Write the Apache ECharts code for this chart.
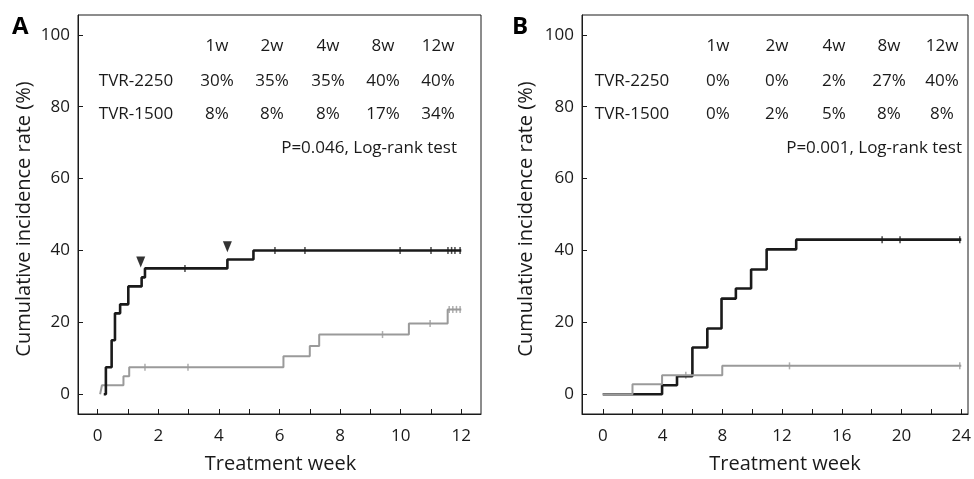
<!DOCTYPE html>
<html>
<head>
<meta charset="utf-8">
<script src="https://cdn.jsdelivr.net/npm/echarts@6.0.0/dist/echarts.min.js"></script>
<style>
  html, body { margin: 0; padding: 0; background: #fff; }
  #chart { width: 974px; height: 479px; }
</style>
</head>
<body>
<div id="chart"></div>
<script>
// panel A: weeks 0-12
const weeksA2250 = [0.2, 0.27, 0.46, 0.57, 0.74, 1.01, 1.45, 1.56, 4.28, 5.14, 12];
const ratesA2250 = [0, 7.5, 15, 22.5, 25, 30, 32.5, 35, 37.5, 40, 40];
const weeksA1500 = [0.08, 0.14, 0.85, 1.04, 6.13, 7.0, 7.31, 10.27, 11.55, 12];
const ratesA1500 = [0, 2.5, 5, 7.5, 10.6, 13.4, 16.6, 19.7, 23.6, 23.6];
const censorA2250 = [[2.88, 35], [5.85, 40], [6.84, 40], [9.98, 40], [11.0, 40], [11.56, 40], [11.68, 40], [11.79, 40], [11.96, 40]];
const censorA1500 = [[1.56, 7.5], [2.98, 7.5], [9.4, 16.6], [10.97, 19.7], [11.6, 23.6], [11.72, 23.6], [11.84, 23.6], [11.96, 23.6]];
const arrowsA = [[1.42, 36.8], [4.28, 41]];

// panel B: weeks 0-24
const weeksB2250 = [0, 3.97, 4.97, 6.0, 7.0, 7.95, 8.91, 9.93, 10.97, 12.95, 24];
const ratesB2250 = [0, 2.5, 5, 13, 18.3, 26.6, 29.4, 34.7, 40.3, 43, 43];
const weeksB1500 = [0, 1.99, 3.97, 8.0, 24];
const ratesB1500 = [0, 2.8, 5.3, 7.9, 7.9];
const censorB2250 = [[18.7, 43], [19.9, 43], [23.9, 43]];
const censorB1500 = [[5.56, 5.3], [12.5, 7.9], [23.9, 7.9]];

// ticks
const yTicks = [0, 20, 40, 60, 80, 100];
const xTicksA = [0, 1, 2, 3, 4, 5, 6, 7, 8, 9, 10, 11, 12];
const xLabelsA = [0, 2, 4, 6, 8, 10, 12];
const xTicksB = [0, 2, 4, 6, 8, 10, 12, 14, 16, 18, 20, 22, 24];
const xLabelsB = [0, 4, 8, 12, 16, 20, 24];

// inset tables
const tableWeeks = ['1w', '2w', '4w', '8w', '12w'];
const groupNames = ['TVR-2250', 'TVR-1500'];
const tableA = [['30%', '35%', '35%', '40%', '40%'], ['8%', '8%', '8%', '17%', '34%']];
const tableB = [['0%', '0%', '2%', '27%', '40%'], ['0%', '2%', '5%', '8%', '8%']];
const pTextA = 'P=0.046, Log-rank test';
const pTextB = 'P=0.001, Log-rank test';
const yTitle = 'Cumulative incidence rate (%)';

const FONT = '"Open Sans", "Noto Sans", sans-serif';
const INK = '#1a1a1a';
const GRAY = '#9a9a9a';

const zip = (xs, ys) => xs.map((x, i) => [x, ys[i]]);

function xAxisFor(idx, min, max, ticks, labels, shift) {
  return {
    type: 'value', gridIndex: idx, min: min, max: max,
    name: 'Treatment week', nameLocation: 'middle', nameGap: 40,
    nameTextStyle: { fontFamily: FONT, fontSize: 20, color: INK, padding: [0, 0, 0, shift] },
    axisLine: { onZero: false, lineStyle: { color: INK, width: 1 } },
    axisTick: { inside: true, length: 5, customValues: ticks, lineStyle: { color: INK } },
    axisLabel: { customValues: labels, margin: 14, fontFamily: FONT, fontSize: 17, color: INK },
    splitLine: { show: false }
  };
}
function yAxisFor(idx) {
  return {
    type: 'value', gridIndex: idx, min: -5.5, max: 105.5,
    axisLine: { onZero: false, lineStyle: { color: INK, width: 1 } },
    axisTick: { inside: true, length: 5, customValues: yTicks, lineStyle: { color: INK } },
    axisLabel: { customValues: yTicks, margin: 8, fontFamily: FONT, fontSize: 17, color: INK },
    splitLine: { show: false }
  };
}
function stepLine(idx, data, color, width) {
  return {
    type: 'line', xAxisIndex: idx, yAxisIndex: idx, data: data, step: 'end',
    symbol: 'none', lineStyle: { color: color, width: width }, animation: false
  };
}
function censor(idx, data, color) {
  return {
    type: 'scatter', xAxisIndex: idx, yAxisIndex: idx, data: data,
    symbol: 'rect', symbolSize: [1.5, 7], itemStyle: { color: color }, animation: false
  };
}

// inset table text, laid out in pixels
const graphics = [];
function txt(x, y, s, align) {
  return { type: 'text', x: x, y: y,
    style: { text: s, font: '17px ' + FONT, fill: INK, textAlign: align || 'center', textVerticalAlign: 'middle' } };
}
function addTable(cols, labelX, rows, pText, pRight) {
  const rowY = [46, 81, 114];
  tableWeeks.forEach((w, i) => graphics.push(txt(cols[i], rowY[0], w)));
  groupNames.forEach((g, r) => {
    graphics.push(txt(labelX, rowY[r + 1], g));
    rows[r].forEach((v, i) => graphics.push(txt(cols[i], rowY[r + 1], v)));
  });
  graphics.push(txt(pRight, 148, pText, 'right'));
}
addTable([217, 272, 328, 383, 438], 136, tableA, pTextA, 457);
addTable([718, 777, 834, 889, 942], 632, tableB, pTextB, 962);
graphics.push({ type: 'text', x: 12, y: 27, style: { text: 'A', font: 'bold 24px ' + FONT, fill: '#000', textVerticalAlign: 'middle' } });
graphics.push({ type: 'text', x: 512, y: 27, style: { text: 'B', font: 'bold 24px ' + FONT, fill: '#000', textVerticalAlign: 'middle' } });
// rotated y titles
[[24, 219], [526, 219]].forEach(p => graphics.push({
  type: 'text', x: p[0], y: p[1], rotation: Math.PI / 2,
  style: { text: yTitle, font: '20px ' + FONT, fill: INK, textAlign: 'center', textVerticalAlign: 'middle' }
}));

const chart = echarts.init(document.getElementById('chart'), null, { renderer: 'canvas' });
chart.setOption({
  backgroundColor: '#fff',
  animation: false,
  grid: [
    { left: 78, top: 15, width: 403, height: 400, show: true, borderColor: INK, borderWidth: 1 },
    { left: 582, top: 15, width: 390, height: 400, show: true, borderColor: INK, borderWidth: 1 }
  ],
  xAxis: [
    xAxisFor(0, -0.65, 12.65, xTicksA, xLabelsA, 2),
    xAxisFor(1, -1.39, 24.45, xTicksB, xLabelsB, 20)
  ],
  yAxis: [yAxisFor(0), yAxisFor(1)],
  graphic: graphics,
  series: [
    stepLine(0, zip(weeksA1500, ratesA1500), GRAY, 2),
    stepLine(0, zip(weeksA2250, ratesA2250), INK, 2.6),
    censor(0, censorA1500, GRAY),
    censor(0, censorA2250, INK),
    {
      type: 'scatter', xAxisIndex: 0, yAxisIndex: 0, data: arrowsA,
      symbol: 'triangle', symbolRotate: 180, symbolSize: [9, 11],
      itemStyle: { color: '#000' }, animation: false
    },
    stepLine(1, zip(weeksB2250, ratesB2250), INK, 2.6),
    stepLine(1, zip(weeksB1500, ratesB1500), GRAY, 2),
    censor(1, censorB2250, INK),
    censor(1, censorB1500, GRAY)
  ]
});
</script>
</body>
</html>
